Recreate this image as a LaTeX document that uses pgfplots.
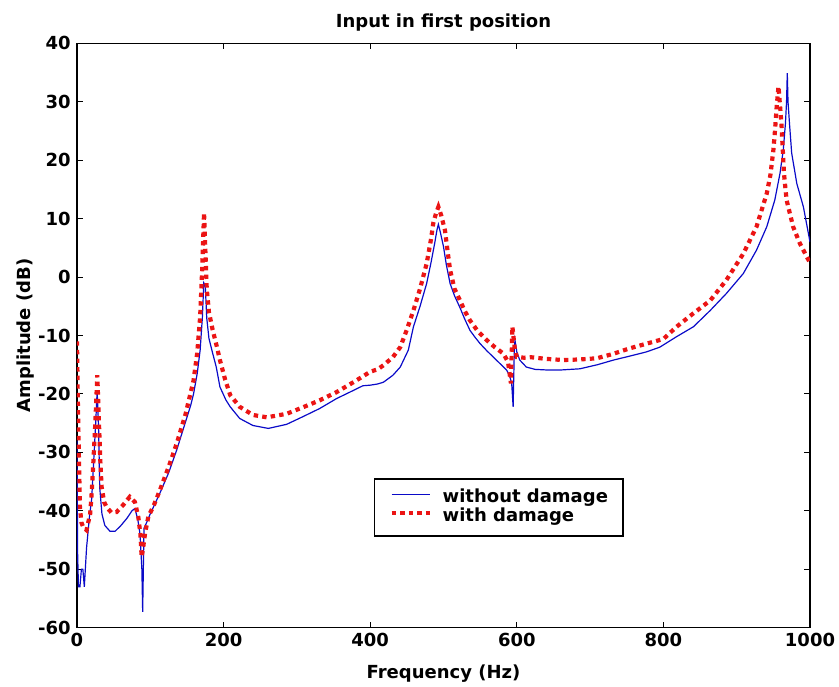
\documentclass[border=0pt]{standalone}
\usepackage{pgfplots}
\pgfplotsset{compat=1.18}
\usepackage{fontspec}
\setmainfont{DejaVu Sans}
\definecolor{mblue}{RGB}{10,10,200}
\definecolor{mred}{RGB}{235,20,20}

\begin{document}
\begin{tikzpicture}
\begin{axis}[
    name=ax,
    scale only axis,
    width=366.5pt,
    height=292.2pt,
    xmin=0, xmax=1000,
    ymin=-60, ymax=40,
    xtick={0,200,...,1000},
    ytick={-60,-50,...,40},
    tick pos=both,
    tick align=inside,
    major tick length=3pt,
    axis line style={line width=0.7pt},
    every tick/.style={black, line width=0.5pt},
    font=\fontsize{9}{11}\selectfont\bfseries,
    /pgf/number format/assume math mode=true,
    /pgf/number format/1000 sep={},
    yticklabel style={anchor=east, inner sep=0pt, xshift=-3pt},
    xticklabel style={anchor=north, inner sep=0pt, yshift=-2.5pt},
    every axis title shift=0pt,
    title={Input in first position},
    title style={at={([yshift=8pt]axis description cs:0.5,1)}, anchor=base, inner sep=0pt},
    xlabel={Frequency (Hz)},
    xlabel style={at={([yshift=-18.2pt]axis description cs:0.5,0)}, anchor=north, inner sep=0pt},
    ylabel={Amplitude (dB)},
    ylabel style={at={([xshift=-21pt]axis description cs:0,0.5)}, anchor=south, inner sep=0pt},
    legend style={
        at={(0.405,0.2556)}, anchor=north west,
        draw=black, line width=0.6pt, fill=white,
        inner xsep=7.5pt, inner ysep=5pt,
        nodes={inner sep=0pt, text height=6.8pt, text depth=2.45pt},
        column sep=5.5pt, row sep=0pt,
        font=\fontsize{9}{11}\selectfont\bfseries,
    },
    legend cell align=left,
    legend image code/.code={\draw[#1] (0pt,2pt) -- (19pt,2pt);},
]

% without damage
\addplot[mblue, line width=0.6pt] coordinates {
(0,-28) (0.8,-47) (2,-53) (4,-53) (6,-50) (8,-50) (10,-53) (13,-46.4) (17,-41) (20,-38)
(23,-31) (25.5,-25) (27.5,-19.5) (29.5,-26) (31,-36) (34,-40.5) (38,-42.5) (45,-43.5)
(52,-43.5) (60,-42.5) (68,-41.3) (75,-40) (79,-39.6) (83,-41.5) (86,-44) (88.5,-50)
(89.6,-57.3) (90.5,-50) (91.4,-43) (95,-42) (100,-40.5) (113,-37) (125,-33.5) (136,-29.6)
(145,-26) (150,-24) (155,-22) (159,-20) (164,-16.5) (168,-12.5) (171,-7) (173,-1)
(175,-1.5) (177,-7) (180,-10.5) (185,-13) (190,-15.4) (195,-18.8) (203,-21) (209,-22.2)
(222,-24.2) (240,-25.4) (261,-25.9) (286,-25.2) (308,-23.9) (331,-22.5) (354,-20.8)
(377,-19.4) (390,-18.6) (400,-18.5) (410,-18.3) (418,-18) (431,-16.8) (441,-15.4)
(452,-12.5) (459,-8.5) (468,-5) (477,-1.1) (483,2.5) (488,5.8) (491,8) (493,9) (496,7.5)
(500,5.2) (504,2) (509,-1.1) (515,-3.2) (522,-5.1) (529,-7.2) (536,-9.1) (543,-10.3)
(550,-11.4) (559,-12.6) (568,-13.7) (577,-14.8) (586,-15.9) (590,-16.8) (593,-18.2)
(595,-22.2) (596.6,-12.5) (597.5,-10.8) (600,-12.8) (604,-14.2) (613,-15.4) (625,-15.8)
(641,-15.9) (660,-15.9) (686,-15.7) (710,-15) (732,-14.2) (755,-13.5) (777,-12.8)
(795,-12) (818,-10.2) (841,-8.5) (864,-5.7) (886,-2.8) (909,0.6) (927,4.6) (941,8.6)
(952,13.2) (959,17.7) (963.5,21.7) (966.5,26.3) (968,30) (969,34.9) (970,30) (972,26.3)
(975,21.2) (982,16) (991,12) (1000,6)
};

% with damage
\addplot[mred, line width=2.1pt, dash pattern=on 2.2pt off 2.1pt] coordinates {
(0,-11) (1,-20) (2,-27) (4,-39.4) (6,-42) (8.6,-42.8) (13,-43.3) (18,-40.5) (20,-37)
(22,-32.5) (25,-25) (27.7,-16.8) (30.5,-26.8) (32,-32) (33.6,-35.9) (37,-38.5) (40.5,-39.4)
(47,-40.3) (54,-40.2) (63,-39) (72,-37.6) (79,-38.5) (83.7,-41.1) (86.5,-44) (88.2,-47.9)
(90,-46.5) (92.8,-43.9) (97.3,-41) (105,-39) (113,-36.5) (125,-32.5) (136,-28.5)
(148,-23.5) (159,-17.7) (164,-13) (168,-6.8) (171,2) (173.3,11) (175,5) (177,-2) (180,-6)
(185,-9) (190,-11.5) (195,-14.2) (202,-17.5) (209,-20.2) (222,-22.2) (240,-23.6) (259,-24)
(286,-23.4) (308,-22.3) (331,-21.1) (354,-19.7) (377,-18) (390,-17) (400,-16.2) (410,-15.8)
(418,-15.1) (431,-13.7) (441,-12) (450,-9) (459,-5.7) (468,-2) (477,2.3) (483,6.5)
(486,9.2) (490,11) (493,12) (497,10.5) (502,8) (506,4) (509,1.2) (515,-2) (522.5,-4)
(529,-5.8) (536,-7.4) (547,-9.3) (559,-10.8) (570,-12) (581.6,-13.1) (588,-14.5)
(592,-18.2) (594,-8.5) (597,-12) (600,-13.7) (610,-13.8) (618,-13.7) (640,-14) (663,-14.2)
(686,-14.1) (709,-13.9) (730,-13.2) (754,-12.2) (777,-11.4) (800,-10.6) (818,-8.5)
(841,-6.2) (864,-4) (886,-0.5) (909,4) (927,8.6) (941,14.3) (946,17.5) (950,21.7)
(952.5,25.5) (954.5,29.1) (957,32.6) (959,29.5) (961,26.3) (964.5,17.7) (968,13.2)
(977,8.6) (986,5.8) (998,2.9) (1000,2.5)
};

\legend{{without damage}, {with damage}}
\end{axis}
\pgfresetboundingbox
\path[use as bounding box] ([shift={(-38.5pt,-29.15pt)}]ax.south west) rectangle ([shift={(14.5pt,21.65pt)}]ax.north east);
\end{tikzpicture}
\end{document}
